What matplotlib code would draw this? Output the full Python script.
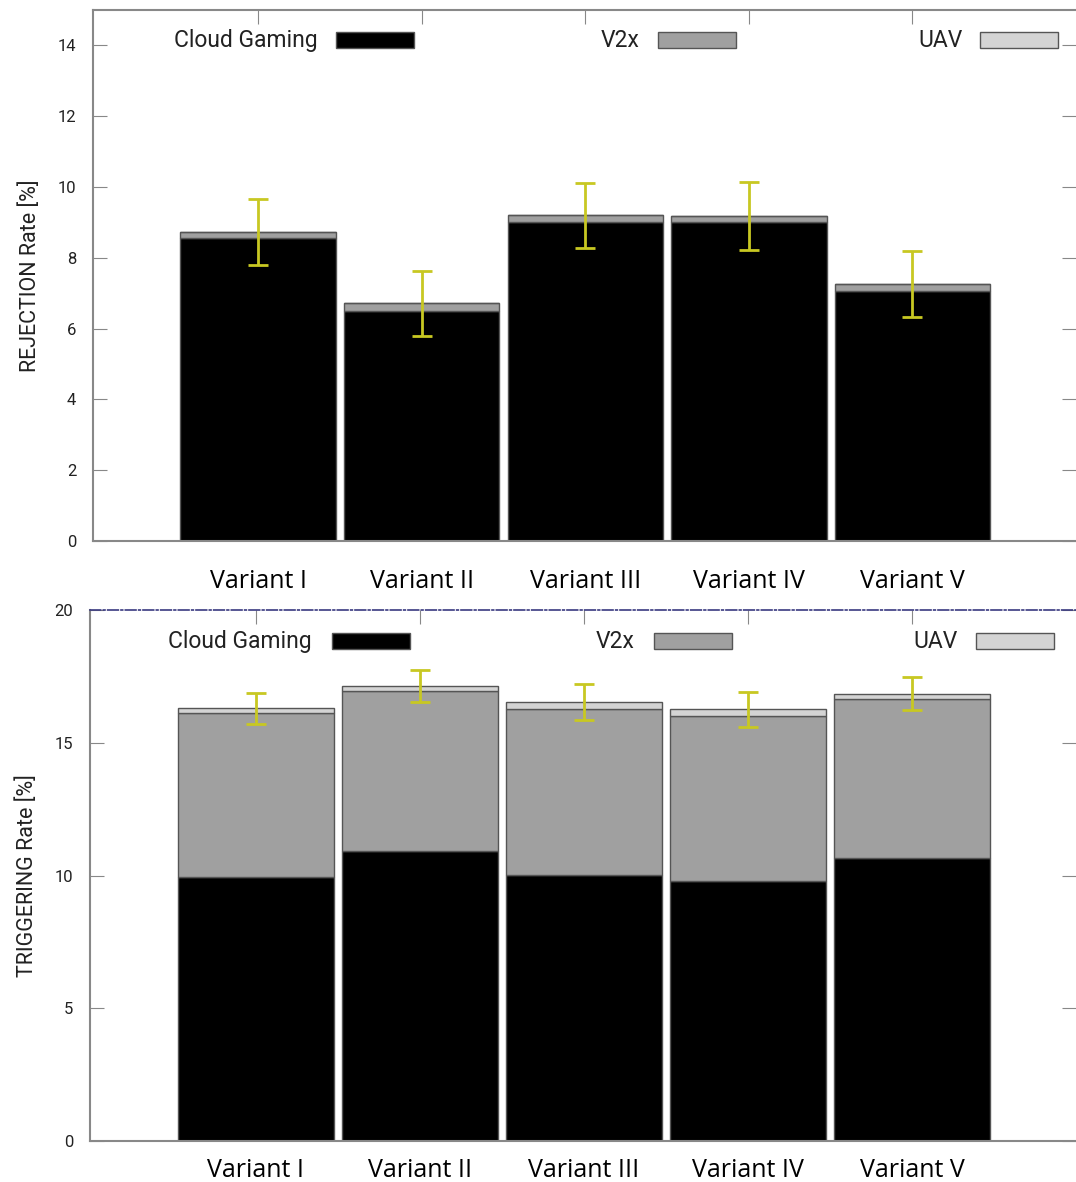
import numpy as np
import matplotlib.pyplot as plt
from matplotlib.patches import Rectangle

# Datos
variants = ["Variant I", "Variant II", "Variant III", "Variant IV", "Variant V"]

rej_cloud = [8.55, 6.51, 9.02, 9.00, 7.07]
rej_v2x = [0.19, 0.20, 0.18, 0.18, 0.19]
rej_uav = [0.0, 0.0, 0.0, 0.0, 0.0]
rej_err = [0.93, 0.92, 0.91, 0.96, 0.93]

trig_cloud = [9.96, 10.94, 10.02, 9.81, 10.65]
trig_v2x = [6.15, 6.01, 6.27, 6.20, 6.00]
trig_uav = [0.19, 0.19, 0.25, 0.25, 0.20]
trig_err = [0.58, 0.60, 0.67, 0.67, 0.63]

series_names = ["Cloud Gaming", "V2x", "UAV"]
colors = ["#000000", "#a0a0a0", "#d4d4d4"]
edge = "#555555"
err_color = "#c8c822"
spine_color = "#888888"

plt.rcParams['font.family'] = ['Roboto', 'DejaVu Sans']

fig = plt.figure(figsize=(10.76, 11.82), dpi=100)
ax1 = fig.add_axes([0.0864, 0.5423, 0.9136, 0.4492])
ax2 = fig.add_axes([0.0836, 0.0347, 0.9164, 0.4492])


def draw(ax, cloud, v2x, uav, err, ylim, yticks, ylabel, legend_pos, xpad):
    x = np.arange(len(variants))
    cloud = np.array(cloud)
    v2x = np.array(v2x)
    uav = np.array(uav)
    ax.bar(x, cloud, 0.95, color=colors[0], edgecolor=edge, linewidth=1)
    ax.bar(x, v2x, 0.95, bottom=cloud, color=colors[1], edgecolor=edge, linewidth=1)
    ax.bar(x, uav, 0.95, bottom=cloud + v2x, color=colors[2], edgecolor=edge, linewidth=1)
    total = cloud + v2x + uav
    ax.errorbar(x, total, yerr=err, fmt='none', ecolor=err_color,
                elinewidth=2, capsize=7, capthick=2, zorder=5)
    ax.set_xlim(-1.01, 5.0)
    ax.set_ylim(*ylim)
    ax.set_yticks(yticks)
    ax.set_xticks(x)
    ax.set_xticklabels(variants, fontsize=18, family=['Open Sans', 'DejaVu Sans'])
    ax.tick_params(axis='x', bottom=False, top=True, direction='in', length=10,
                   color=spine_color, pad=xpad)
    ax.tick_params(axis='y', left=True, right=True, direction='in', length=10,
                   color=spine_color, labelsize=12, labelcolor='#222222', pad=12)
    ax.set_ylabel(ylabel, fontsize=15.5, color='#222222', labelpad=12)
    for s in ['left', 'bottom', 'top']:
        ax.spines[s].set_color(spine_color)
        ax.spines[s].set_linewidth(1.5)
    ax.spines['right'].set_visible(False)

    # leyenda estilo gnuplot
    ty, h, w = legend_pos['y'], 0.030, 0.0794
    for name, c, tx, sx in zip(series_names, colors, legend_pos['text'], legend_pos['swatch']):
        ax.text(tx, ty, name, transform=ax.transAxes, ha='right', va='center',
                fontsize=16.5, color='#222222')
        ax.add_patch(Rectangle((sx, ty - h / 2), w, h, transform=ax.transAxes,
                               facecolor=c, edgecolor=edge, linewidth=1, clip_on=False))


draw(ax1, rej_cloud, rej_v2x, rej_uav, rej_err, (0, 15), [0, 2, 4, 6, 8, 10, 12, 14],
     "REJECTION Rate [%]",
     {'y': 0.9435, 'text': [0.2289, 0.5565, 0.885], 'swatch': [0.2472, 0.5748, 0.9023]},
     xpad=20)
draw(ax2, trig_cloud, trig_v2x, trig_uav, trig_err, (0, 20), [0, 5, 10, 15, 20],
     "TRIGGERING Rate [%]",
     {'y': 0.9416, 'text': [0.2252, 0.5527, 0.8803], 'swatch': [0.2454, 0.572, 0.8986]},
     xpad=12)

ax2.spines['top'].set_color('#3a3a80')
ax2.spines['top'].set_linestyle('-.')
ax2.spines['top'].set_linewidth(1.2)

fig.savefig("out.png", dpi=100)
